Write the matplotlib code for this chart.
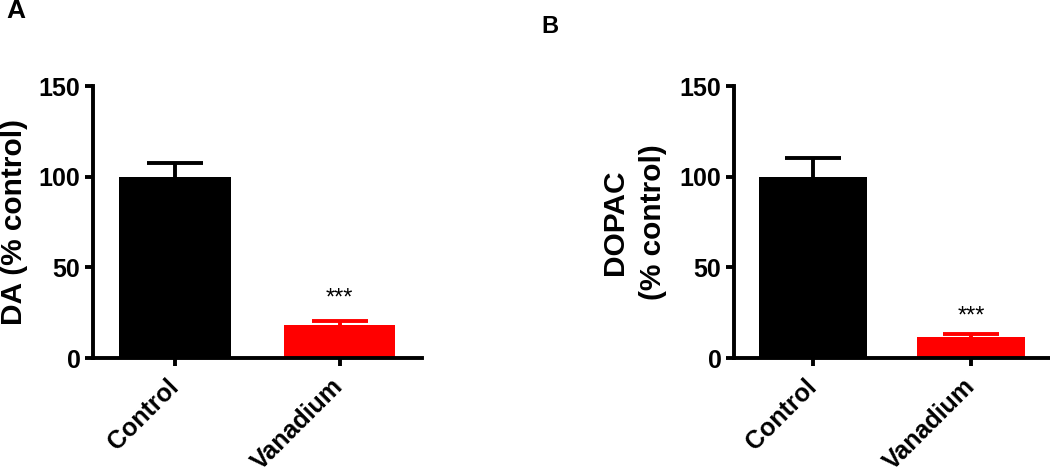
import numpy as np
import matplotlib
matplotlib.use("Agg")
import matplotlib.pyplot as plt

plt.rcParams['font.family'] = ['Liberation Sans', 'DejaVu Sans']
plt.rcParams['font.weight'] = 'bold'

groups = ["Control", "Vanadium"]
colors = ["black", "red"]

da_mean = [100, 18]
da_sem = [7.5, 2.5]
dopac_mean = [100, 11.5]
dopac_sem = [10.5, 1.5]

stars = ["", "***"]
yticks = [0, 50, 100, 150]


def draw_panel(ax, means, sems, ylabel, star_y, labelpad):
    x = np.arange(len(groups))
    ax.bar(x, means, width=0.68, color=colors, zorder=2)
    for i in range(len(groups)):
        eb = ax.errorbar(x[i], means[i], yerr=[[0], [sems[i]]], fmt='none',
                         ecolor=colors[i], elinewidth=2.8, capsize=20,
                         capthick=2.8, zorder=1)
        # only the upper cap, like the original
        for cap in eb[1]:
            if cap.get_ydata()[0] <= means[i]:
                cap.set_visible(False)
        if stars[i]:
            ax.text(x[i], star_y, stars[i], ha='center', va='center',
                    fontsize=17, fontweight='normal')
    ax.set_xlim(-0.5, 1.5)
    ax.set_ylim(0, 150)
    ax.set_yticks(yticks)
    ax.set_xticks(x)
    ax.set_xticklabels(groups, rotation=45, ha='right', va='center',
                       rotation_mode='anchor', fontsize=18, fontweight='bold')
    for lbl in ax.get_yticklabels():
        lbl.set_fontsize(18)
        lbl.set_fontweight('bold')
    ax.spines['top'].set_visible(False)
    ax.spines['right'].set_visible(False)
    for s in ['left', 'bottom']:
        ax.spines[s].set_linewidth(2.8)
        ax.spines[s].set_zorder(3)
    ax.tick_params(axis='both', width=2.8, length=6)
    ax.tick_params(axis='y', pad=3)
    ax.tick_params(axis='x', pad=12)
    ax.set_ylabel(ylabel, fontsize=21.5, fontweight='bold',
                  linespacing=1.45, labelpad=labelpad)


fig = plt.figure(figsize=(10.5, 4.73), dpi=100)
ax1 = fig.add_axes([0.0886, 0.243, 0.313, 0.575])
ax2 = fig.add_axes([0.699, 0.243, 0.301, 0.575])

draw_panel(ax1, da_mean, da_sem, "DA (% control)", 33, 8)
draw_panel(ax2, dopac_mean, dopac_sem, "DOPAC\n(% control)", 23, 9)

fig.text(0.006, 1.002, "A", fontsize=19, fontweight='bold', va='top')
fig.text(0.516, 0.968, "B", fontsize=17, fontweight='bold', va='top')

fig.savefig("out.png", dpi=100)
